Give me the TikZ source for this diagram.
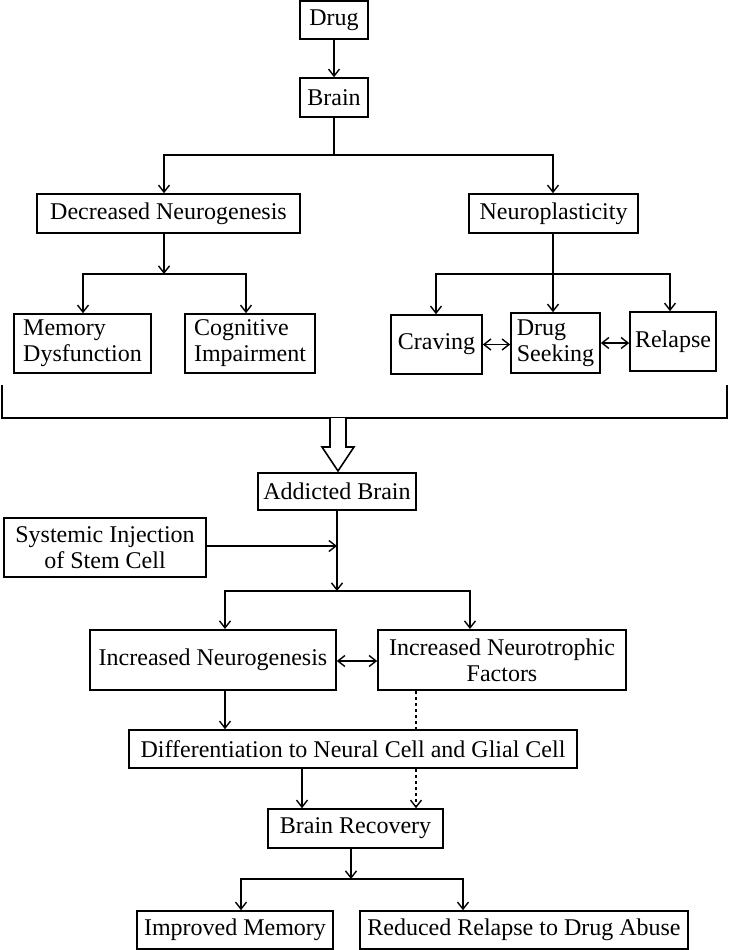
\documentclass[tikz,border=0pt]{standalone}
\usepackage{fontspec}
\setmainfont{Liberation Serif}
\usetikzlibrary{arrows.meta}
\tikzset{
    box/.style={draw, line width=1.6pt, fill=white, inner sep=2pt, align=center,
        font=\fontsize{24}{26}\selectfont},
    lbox/.style={box, align=left},
    arr/.style={line width=1.6pt, -{Straight Barb[length=7pt,width=11pt,line width=1.4pt]}},
    darr/.style={line width=1.6pt, {Straight Barb[length=7pt,width=11pt,line width=1.4pt]}-{Straight Barb[length=7pt,width=11pt,line width=1.4pt]}},
    line/.style={line width=1.6pt}
}
\begin{document}
\begin{tikzpicture}[x=1pt,y=-1pt]
    \useasboundingbox (0,0) rectangle (729,950);
    % upper part
    \node[box, minimum width=68pt, minimum height=38pt] (drug) at (334,20) {Drug};
    \node[box, minimum width=68pt, minimum height=39pt] (brain) at (334,97.5) {Brain};
    \node[box, minimum width=263pt, minimum height=39pt] (decneuro) at (168.5,213.5) {Decreased Neurogenesis};
    \node[box, minimum width=169pt, minimum height=39pt] (plastic) at (553.5,213.5) {Neuroplasticity};
    \node[lbox, minimum width=137pt, minimum height=59pt] (memdys) at (82.5,343.5) {Memory\\Dysfunction};
    \node[lbox, minimum width=130pt, minimum height=59pt] (cogimp) at (250,343.5) {Cognitive\\Impairment};
    \node[box, minimum width=91pt, minimum height=59pt] (craving) at (436.5,344.5) {Craving};
    \node[lbox, minimum width=89pt, minimum height=60pt] (seeking) at (555.5,343) {Drug\\Seeking};
    \node[box, minimum width=86pt, minimum height=59pt] (relapse) at (673,341.5) {Relapse};
    \coordinate (b1) at (334,155);
    \coordinate (d1) at (164,274);
    \coordinate (n1) at (553,274);

    \draw[arr] (drug) -- (brain);
    \draw[line] (brain) -- (b1);
    \draw[arr] (b1) -| (decneuro.north -| d1);
    \draw[arr] (b1) -| (plastic.north -| n1);
    \draw[arr] (decneuro.south -| d1) -- (d1);
    \draw[arr] (d1) -| (memdys.north -| 83,0);
    \draw[arr] (d1) -| (cogimp.north -| 246,0);
    \draw[arr] (plastic.south -| n1) -- (seeking.north -| n1);
    \draw[arr] (n1) -| (craving.north -| 436,0);
    \draw[arr] (n1) -| (relapse.north -| 670,0);
    \draw[darr] (craving.east) -- (craving.east -| seeking.west);
    \draw[darr] (seeking.east) -- (seeking.east -| relapse.west);

    % bracket and hollow arrow
    \draw[line] (2,385) -- (2,418) -- (727,418) -- (727,385);
    \draw[line, fill=white] (330,418) -- (330,447) -- (322,447) -- (338,471)
        -- (354,447) -- (346,447) -- (346,418);

    % lower part
    \node[box, minimum width=158pt, minimum height=37pt] (addict) at (337,491.5) {Addicted Brain};
    \node[box, minimum width=202pt, minimum height=59pt] (stem) at (105,547.5) {Systemic Injection\\of Stem Cell};
    \node[box, minimum width=246pt, minimum height=60pt] (incneuro) at (213,660) {Increased Neurogenesis};
    \node[box, minimum width=248pt, minimum height=60pt] (trophic) at (502,660) {Increased Neurotrophic\\Factors};
    \node[box, minimum width=448pt, minimum height=38pt] (diff) at (353,749) {Differentiation to Neural Cell and Glial Cell};
    \node[box, minimum width=175pt, minimum height=39pt] (recovery) at (355.5,828.5) {Brain Recovery};
    \node[box, minimum width=196pt, minimum height=38pt] (memory) at (235,930) {Improved Memory};
    \node[box, minimum width=328pt, minimum height=38pt] (reduced) at (524,930) {Reduced Relapse to Drug Abuse};
    \coordinate (a1) at (337,591);
    \coordinate (r1) at (351,879);

    \draw[arr] (addict) -- (a1);
    \draw[arr] (stem.east |- 0,546) -- (addict.south |- 0,546);
    \draw[arr] (a1) -| (225,629);
    \draw[arr] (a1) -| (470,629);
    \draw[darr] (incneuro.east |- 0,661) -- (trophic.west |- 0,661);
    \draw[arr] (incneuro.south -| 225,0) -- (diff.north -| 225,0);
    \draw[line, dashed] (trophic.south -| 416,0) -- (diff.north -| 416,0);
    \draw[arr, dashed] (diff.south -| 416,0) -- (recovery.north -| 416,0);
    \draw[arr] (diff.south -| 302,0) -- (recovery.north -| 302,0);
    \draw[arr] (recovery.south -| r1) -- (r1);
    \draw[arr] (r1) -| (memory.north -| 241,0);
    \draw[arr] (r1) -| (reduced.north -| 463,0);
\end{tikzpicture}
\end{document}
